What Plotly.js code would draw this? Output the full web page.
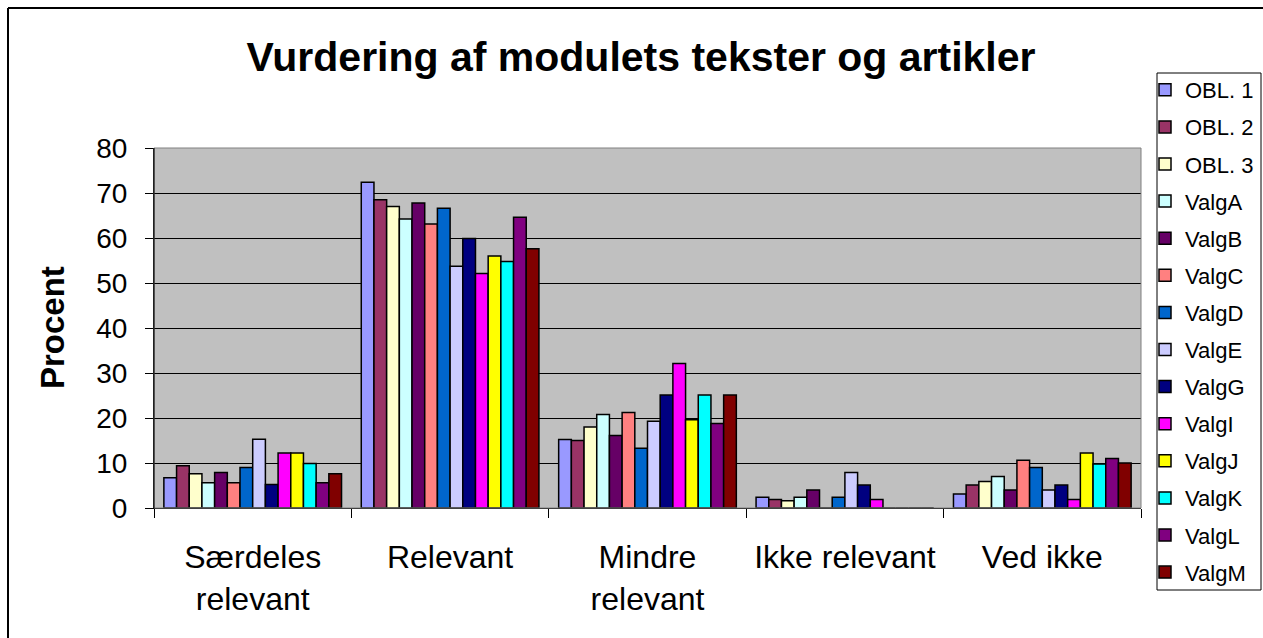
<!DOCTYPE html>
<html>
<head>
<meta charset="utf-8">
<script src="https://cdn.plot.ly/plotly-3.0.1.min.js"></script>
<style>html,body{margin:0;padding:0;background:#fff;}#chart{width:1263px;height:638px;}</style>
</head>
<body>
<div id="chart"></div>
<script>
const categories = ["Særdeles<br>relevant", "Relevant", "Mindre<br>relevant", "Ikke relevant", "Ved ikke"];
const seriesNames = ["OBL. 1","OBL. 2","OBL. 3","ValgA","ValgB","ValgC","ValgD","ValgE","ValgG","ValgI","ValgJ","ValgK","ValgL","ValgM"];
const obl1  = [6.7, 72.4, 15.2, 2.4, 3.1];
const obl2  = [9.4, 68.5, 15.0, 1.9, 5.1];
const obl3  = [7.6, 67.0, 18.0, 1.6, 5.9];
const valgA = [5.6, 64.2, 20.8, 2.4, 7.0];
const valgB = [7.9, 67.8, 16.1, 4.0, 4.0];
const valgC = [5.6, 63.1, 21.2, 0,   10.6];
const valgD = [9.0, 66.6, 13.3, 2.4, 9.0];
const valgE = [15.3, 53.7, 19.3, 7.9, 4.0];
const valgG = [5.2, 59.9, 25.1, 5.1, 5.1];
const valgI = [12.2, 52.1, 32.1, 1.9, 1.9];
const valgJ = [12.2, 56.0, 19.6, 0,   12.2];
const valgK = [9.9, 54.8, 25.1, 0,   9.8];
const valgL = [5.6, 64.6, 18.8, 0,   11.0];
const valgM = [7.6, 57.6, 25.1, 0,   10.0];
const seriesValues = [obl1, obl2, obl3, valgA, valgB, valgC, valgD, valgE, valgG, valgI, valgJ, valgK, valgL, valgM];
const colors = ["#9999FF","#993366","#FFFFCC","#CCFFFF","#660066","#FF8080","#0066CC","#CCCCFF","#000080","#FF00FF","#FFFF00","#00FFFF","#800080","#800000"];
const yTicks = [0,10,20,30,40,50,60,70,80];

const FONT = '"Liberation Sans", Arial, sans-serif';
const W = 1263, H = 638;
const L = 154, R = 1141, T = 148, B = 508;
const px = x => (x - L) / (R - L);
const py = y => (H - y) / H;

const traces = seriesNames.map((n, i) => ({
  type: 'bar',
  name: n,
  x: categories,
  y: seriesValues[i],
  legendgroup: 'g' + i,
  marker: {color: colors[i], line: {color: '#000', width: 1.5}},
  hoverinfo: 'name+y'
}));

const layout = {
  width: W, height: H,
  margin: {l: L, r: W - R, t: 0, b: 0, pad: 0},
  paper_bgcolor: '#fff',
  plot_bgcolor: '#C0C0C0',
  font: {family: FONT, color: '#000'},
  barmode: 'group',
  bargap: 0.1,
  bargroupgap: 0,
  showlegend: true,
  title: {
    text: '<b>Vurdering af modulets tekster og artikler</b>',
    font: {family: FONT, size: 41, color: '#000'},
    xref: 'paper', x: px(641), xanchor: 'center',
    yref: 'container', y: 1 - 57 / H, yanchor: 'middle'
  },
  xaxis: {
    type: 'category',
    tickfont: {family: FONT, size: 32, color: '#000'},
    ticks: 'outside', ticklen: 9, tickcolor: '#000', tickwidth: 1,
    tickson: 'boundaries',
    showline: true, linecolor: '#000', linewidth: 1,
    showgrid: false, zeroline: false,
    ticklabelstandoff: 21,
    fixedrange: true
  },
  yaxis: {
    domain: [(H - B) / H, (H - T) / H],
    range: [0, 80],
    tickvals: yTicks,
    ticktext: yTicks.map(String),
    tickfont: {family: FONT, size: 28, color: '#000'},
    ticks: 'outside', ticklen: 8, tickcolor: '#000', tickwidth: 1,
    showline: true, linecolor: '#000', linewidth: 1,
    showgrid: true, gridcolor: '#000', gridwidth: 1,
    zeroline: false,
    ticklabelstandoff: 12,
    fixedrange: true
  },
  legend: {
    x: px(1145), xanchor: 'left',
    y: py(69), yanchor: 'top',
    bgcolor: 'rgba(0,0,0,0)', borderwidth: 0,
    font: {family: FONT, size: 22, color: '#000'},
    traceorder: 'grouped',
    tracegroupgap: 5.5,
    itemclick: false, itemdoubleclick: false
  },
  annotations: [{
    text: '<b>Procent</b>',
    xref: 'paper', yref: 'paper',
    x: px(52), y: py(328), xanchor: 'center', yanchor: 'middle',
    textangle: -90, showarrow: false,
    font: {family: FONT, size: 33, color: '#000'}
  }],
  shapes: [
    {type: 'rect', xref: 'paper', yref: 'paper', x0: 0, x1: 1, y0: py(B), y1: py(T), line: {color: '#808080', width: 1}, layer: 'above'},
    {type: 'rect', xref: 'paper', yref: 'paper', x0: px(1157), x1: px(1261), y0: py(73), y1: py(590), line: {color: '#000', width: 1}, fillcolor: 'rgba(0,0,0,0)'},
    {type: 'line', xref: 'paper', yref: 'paper', x0: px(8), x1: px(8), y0: py(8), y1: py(640), line: {color: '#000', width: 2}},
    {type: 'line', xref: 'paper', yref: 'paper', x0: px(8), x1: px(1265), y0: py(8), y1: py(8), line: {color: '#000', width: 2}},
    {type: 'line', xref: 'paper', yref: 'paper', x0: 0, x1: 0, y0: py(B), y1: py(T), line: {color: '#000', width: 1}, layer: 'above'}
  ]
};

Plotly.newPlot('chart', traces, layout, {displayModeBar: false, staticPlot: false});
</script>
</body>
</html>
